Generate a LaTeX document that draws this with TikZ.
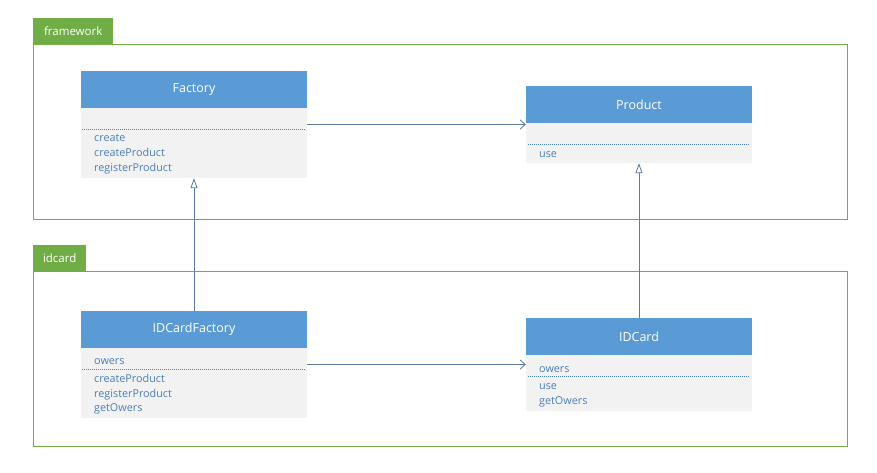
\documentclass[tikz,border=0pt]{standalone}
\usepackage{fontspec}
\setmainfont{Open Sans}
\usetikzlibrary{arrows.meta}
\definecolor{pkggreen}{HTML}{70AD47}
\definecolor{headblue}{HTML}{5B9BD5}
\definecolor{bodygray}{HTML}{F2F2F2}
\definecolor{memberblue}{HTML}{4A7EBB}
\definecolor{linkblue}{HTML}{5B7BA3}

\begin{document}
\begin{tikzpicture}[x=1pt,y=-1pt,
	pkgframe/.style={draw=pkggreen,line width=0.8pt},
	pkgtab/.style={fill=pkggreen,text=white,anchor=south west,inner sep=0pt,minimum height=26pt,font=\fontsize{11.5}{13}\selectfont},
	classbody/.style={fill=bodygray,minimum width=226pt,inner sep=0pt},
	classhead/.style={fill=headblue,text=white,minimum width=226pt,minimum height=37pt,inner sep=0pt,anchor=north,font=\fontsize{12.5}{14}\selectfont},
	member/.style={text=memberblue,anchor=base west,inner sep=0pt,font=\fontsize{10.8}{12}\selectfont},
	sep/.style={draw=memberblue,dash pattern=on 1pt off 1pt,line width=0.6pt},
	assoc/.style={draw=linkblue,line width=0.8pt,-{Straight Barb[length=5pt,width=9pt]}},
	inherit/.style={draw=linkblue,line width=0.8pt,-{Triangle[open,length=10pt,width=7pt,fill=white]}}]
	\fill [white] (0,0) rectangle (877,472);
	\useasboundingbox (0,0) rectangle (877,472);
	% packages
	\draw [pkgframe] (33,44) rectangle (847,219);
	\node [pkgtab,minimum width=80pt] (fwtab) at (33,44) {framework};
	\draw [pkgframe] (33,271) rectangle (847,446);
	\node [pkgtab,minimum width=53pt] (idtab) at (33,271) {idcard};
	% Factory
	\node [classbody,minimum height=107pt] (factory) at (194,124.5) {};
	\node [classhead] (factoryhead) at (factory.north) {Factory};
	\draw [sep] (82,129.5) -- (306,129.5);
	\node [member] (f1) at (94,141) {create};
	\node [member] (f2) at (94,156) {createProduct};
	\node [member] (f3) at (94,171) {registerProduct};
	% Product
	\node [classbody,minimum height=77pt] (product) at (639,124.5) {};
	\node [classhead] (producthead) at (product.north) {Product};
	\draw [sep] (528,144.5) -- (750,144.5);
	\node [member] (p1) at (539,157) {use};
	% IDCardFactory
	\node [classbody,minimum height=107pt] (idfactory) at (194,364.5) {};
	\node [classhead] (idfactoryhead) at (idfactory.north) {IDCardFactory};
	\node [member] (c1) at (94,364) {owers};
	\draw [sep] (82,369) -- (306,369);
	\node [member] (c2) at (94,382) {createProduct};
	\node [member] (c3) at (94,397) {registerProduct};
	\node [member] (c4) at (94,411) {getOwers};
	% IDCard
	\node [classbody,minimum height=93pt] (idcard) at (639,364.5) {};
	\node [classhead] (idcardhead) at (idcard.north) {IDCard};
	\node [member] (d1) at (539,372) {owers};
	\draw [sep] (528,376.5) -- (750,376.5);
	\node [member] (d2) at (539,389) {use};
	\node [member] (d3) at (539,404) {getOwers};
	% connectors
	\draw [assoc] (factory.east) -- (product.west);
	\draw [assoc] (idfactory.east) -- (idcard.west);
	\draw [inherit] (idfactoryhead.north) -- (factory.south);
	\draw [inherit] (idcardhead.north) -- (product.south);
\end{tikzpicture}
\end{document}
